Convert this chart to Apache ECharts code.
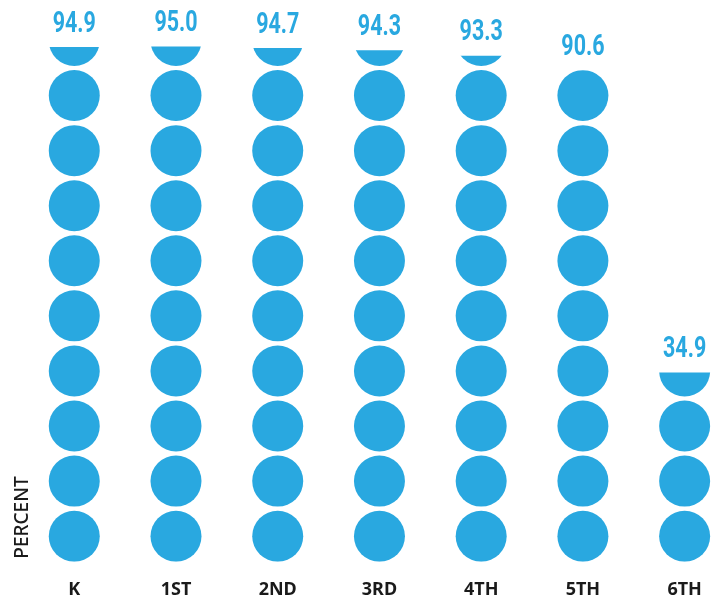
<!DOCTYPE html>
<html>
<head>
<meta charset="utf-8">
<script src="https://cdn.jsdelivr.net/npm/echarts@6/dist/echarts.min.js"></script>
<style>
html,body{margin:0;padding:0;background:#fff;}
#main{width:718px;height:602px;}
</style>
</head>
<body>
<div id="main"></div>
<script>
var categories = ['K', '1ST', '2ND', '3RD', '4TH', '5TH', '6TH'];
var values = [94.9, 95.0, 94.7, 94.3, 93.3, 90.6, 34.9];
var axisName = 'PERCENT';

var blue = '#29a8e0';
var chart = echarts.init(document.getElementById('main'));
var baseGraphic = [{
  type: 'text',
  x: 22.5, y: 517.5,
  rotation: Math.PI / 2,
  style: {
    text: axisName,
    fontFamily: 'Noto Sans',
    fontSize: 19,
    fontWeight: 500,
    fill: '#1a1a1a',
    align: 'center',
    verticalAlign: 'middle'
  }
}];
chart.setOption({
  animation: false,
  backgroundColor: '#ffffff',
  grid: { left: 23.4, width: 712.1, bottom: 40.3, top: 19.3, outerBoundsMode: 'none', containLabel: false },
  graphic: baseGraphic,
  xAxis: {
    type: 'category',
    data: categories,
    axisLine: { show: false },
    axisTick: { show: false },
    axisLabel: {
      margin: 19,
      fontFamily: 'Noto Sans',
      fontWeight: 'bold',
      fontSize: 18,
      color: '#1a1a1a'
    }
  },
  yAxis: {
    type: 'value',
    min: 0,
    max: 100,
    show: false
  },
  series: [{
    type: 'pictorialBar',
    data: values,
    symbol: 'circle',
    symbolSize: [51, 51],
    symbolRepeat: 10,
    symbolBoundingData: 100.8,
    symbolClip: true,
    itemStyle: { color: blue },
    z: 2
  }]
});

// value labels, positioned through the chart's own scales
var labelGraphics = values.map(function (v, i) {
  var pt = chart.convertToPixel({ gridIndex: 0 }, [i, v]);
  return {
    type: 'text',
    x: pt[0],
    y: pt[1] - 8,
    scaleX: 0.74,
    z: 10,
    style: {
      text: v.toFixed(1),
      fontFamily: 'Roboto',
      fontWeight: 'bold',
      fontSize: 29,
      fill: blue,
      align: 'center',
      verticalAlign: 'bottom'
    }
  };
});
chart.setOption({ graphic: baseGraphic.concat(labelGraphics) });
</script>
</body>
</html>
